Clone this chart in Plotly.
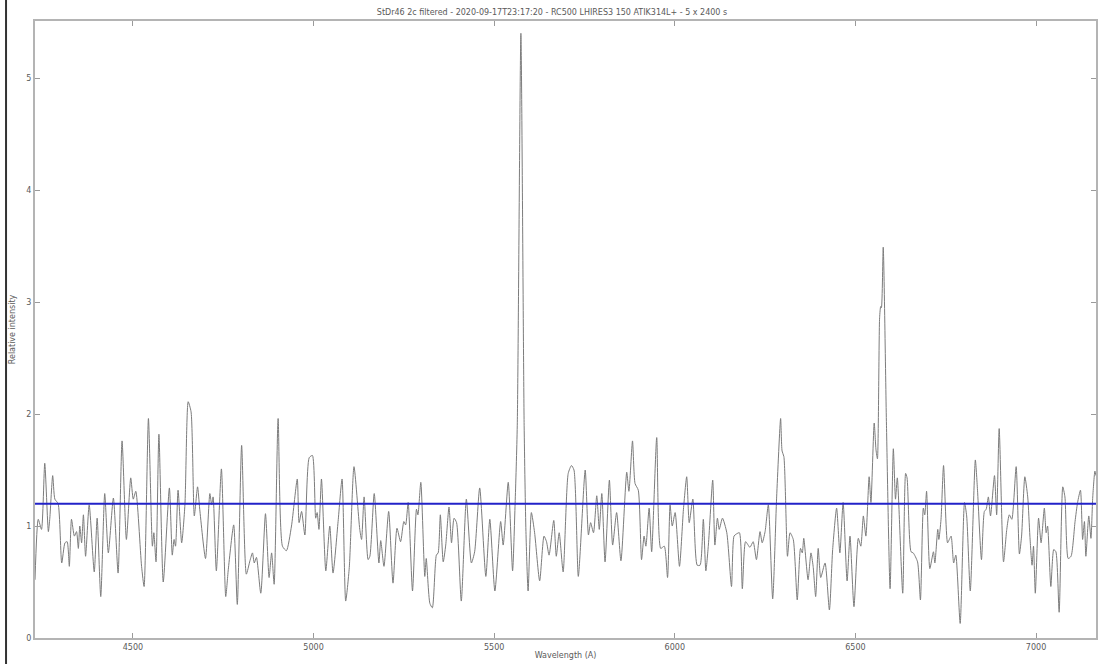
import plotly.graph_objects as go

# Wavelength (Angstrom) and relative intensity
wavelength = [
    4229, 4238, 4247, 4256, 4266, 4270, 4278, 4284, 4293, 4303, 4312, 4318, 4324, 4330, 4338,
    4344, 4349, 4353, 4358, 4363, 4369, 4379, 4393, 4401, 4411, 4422, 4432, 4446, 4459, 4470,
    4482, 4494, 4501, 4508, 4524, 4531, 4543, 4554, 4558, 4564, 4572, 4584, 4601, 4609, 4614,
    4618, 4625, 4635, 4644, 4653, 4661, 4670, 4679, 4685, 4701, 4713, 4718, 4722,
    4731, 4745, 4757, 4764, 4779, 4789, 4801, 4814, 4824, 4831, 4836, 4842, 4854, 4867, 4877,
    4884, 4891, 4902, 4914, 4925, 4939, 4955, 4960, 4967, 4976, 4988, 4997, 5006, 5010, 5015,
    5022, 5034, 5045, 5054, 5068, 5079, 5089, 5099, 5112, 5128, 5133, 5140, 5151, 5156, 5168,
    5181, 5186, 5195, 5208, 5220,
    5231, 5241, 5250, 5255, 5262, 5274, 5285, 5289, 5297, 5308, 5312, 5322, 5329, 5340, 5345,
    5351, 5359, 5366, 5375, 5382, 5389, 5396, 5409, 5423, 5437, 5446, 5460, 5477, 5488, 5502,
    5518, 5525, 5539, 5551, 5558, 5564, 5574, 5583, 5588, 5594, 5603, 5612, 5626, 5638, 5645,
    5652, 5665, 5672, 5680, 5691, 5705, 5714, 5721,
    5733, 5752, 5761, 5767, 5775, 5784, 5791, 5798, 5807, 5819, 5828, 5839, 5851, 5867, 5873,
    5883, 5890, 5899, 5908, 5915, 5920, 5929, 5936, 5950, 5961, 5971, 5980, 5987, 5993, 6001,
    6013, 6024, 6033, 6040, 6050, 6062, 6070, 6079, 6086, 6093, 6105, 6111, 6118, 6123, 6132,
    6144, 6157, 6164, 6171, 6179, 6187, 6196, 6208, 6217,
    6226, 6236, 6242, 6250, 6259, 6271, 6282, 6293, 6297, 6302, 6312, 6319, 6328, 6339, 6348,
    6353, 6357, 6369, 6377, 6383, 6390, 6397, 6404, 6416, 6428, 6437, 6448, 6457, 6466, 6477,
    6485, 6496, 6508, 6515, 6522, 6529, 6538, 6543, 6552, 6557, 6561, 6567, 6570, 6572, 6577,
    6586, 6596, 6605, 6611, 6616, 6631, 6639, 6643, 6654, 6660, 6672, 6680, 6688, 6692, 6697,
    6706, 6716, 6720,
    6728, 6731, 6737, 6744, 6755, 6760, 6765, 6772, 6778, 6790, 6802, 6808, 6818, 6832, 6838,
    6849, 6857, 6862, 6868, 6874, 6885, 6891, 6898, 6910, 6919, 6926, 6933, 6945, 6954, 6960,
    6969, 6977, 6983, 6989, 6993, 6998, 7007, 7014, 7023, 7028, 7032, 7041, 7049, 7055, 7064,
    7074, 7080, 7089, 7097, 7108, 7115, 7123, 7129, 7134, 7138, 7146, 7152, 7157, 7163, 7166,
]
intensity = [
    0.52, 1.06, 0.97, 1.56, 0.95, 1.07, 1.45, 1.24, 1.20, 0.67, 0.85, 0.86, 0.64, 1.06, 0.91,
    0.95, 0.80, 1.00, 0.85, 1.10, 0.73, 1.19, 0.59, 1.07, 0.37, 1.29, 0.76, 1.25, 0.58, 1.76,
    0.88, 1.43, 1.24, 1.31, 0.64, 0.46, 1.96, 0.82, 0.94, 0.68, 1.82, 0.50, 1.34, 0.74, 0.88,
    0.82, 1.32, 0.85, 1.19, 2.11, 2.02, 1.09, 1.35, 1.15, 0.71, 1.29, 1.19, 1.26,
    0.60, 1.51, 0.37, 0.61, 1.01, 0.30, 1.72, 0.57, 0.69, 0.76, 0.67, 0.72, 0.40, 1.11, 0.54,
    0.76, 0.48, 1.96, 0.82, 0.78, 1.00, 1.42, 1.03, 1.13, 0.92, 1.61, 1.63, 1.07, 1.12, 0.97,
    1.42, 0.60, 1.00, 0.58, 1.04, 1.42, 0.33, 0.63, 1.53, 0.97, 0.88, 1.26, 0.70, 0.73, 1.29,
    0.67, 0.87, 0.64, 1.13, 0.49,
    0.98, 0.86, 1.04, 1.01, 1.21, 0.42, 1.15, 1.10, 1.39, 0.55, 0.71, 0.31, 0.27, 0.74, 0.76,
    1.10, 0.68, 0.83, 1.17, 0.85, 1.07, 1.03, 0.33, 1.24, 0.67, 0.77, 1.34, 0.55, 1.06, 0.42,
    1.04, 0.83, 1.39, 0.60, 1.20, 1.90, 5.40, 1.90, 0.95, 0.42, 1.12, 0.94, 0.51, 0.91, 0.86,
    0.74, 1.05, 0.73, 0.94, 0.59, 1.47, 1.54, 1.50,
    0.55, 1.50, 0.92, 1.03, 0.94, 1.27, 0.97, 1.29, 0.68, 1.41, 0.83, 1.12, 0.69, 1.48, 1.31,
    1.76, 1.38, 1.32, 0.70, 0.91, 0.82, 1.16, 0.77, 1.79, 0.80, 0.82, 0.54, 1.19, 1.00, 1.12,
    0.64, 1.15, 1.44, 1.03, 1.24, 0.65, 0.65, 1.06, 0.60, 0.83, 1.41, 0.83, 1.07, 0.97, 1.07,
    0.94, 0.46, 0.91, 0.93, 0.94, 0.44, 0.86, 0.81, 0.86,
    0.70, 0.95, 0.85, 0.95, 1.19, 0.35, 1.26, 1.96, 1.67, 1.62, 0.73, 0.94, 0.88, 0.34, 0.80,
    0.76, 0.89, 0.52, 0.76, 0.64, 0.37, 0.80, 0.54, 0.67, 0.25, 0.79, 1.16, 0.76, 1.21, 0.51,
    0.91, 0.28, 0.89, 0.82, 1.09, 0.91, 1.44, 1.21, 1.92, 1.68, 1.60, 2.86, 2.96, 2.95, 3.49,
    1.90, 0.44, 1.69, 1.24, 1.43, 0.40, 1.47, 1.43, 0.77, 0.76, 0.68, 0.34, 1.16, 1.10, 1.31,
    0.62, 0.77, 0.67,
    0.97, 0.88, 1.06, 1.54, 0.85, 0.88, 0.91, 0.67, 0.74, 0.13, 1.21, 1.09, 0.42, 1.59, 1.32,
    0.70, 1.13, 1.15, 1.26, 1.09, 1.45, 1.10, 1.87, 0.68, 0.97, 1.10, 1.06, 1.53, 0.75, 0.91,
    1.44, 1.26, 0.91, 0.65, 0.82, 0.40, 1.07, 0.85, 1.16, 0.94, 1.00, 0.46, 0.79, 0.77, 0.23,
    1.35, 1.26, 0.71, 0.73, 1.04, 1.21, 1.32, 0.88, 1.04, 0.73, 1.09, 0.89, 1.26, 1.49, 1.45,
]
continuum_level = 1.20
x_range = [4229, 7166]
y_range = [0, 5.51]
x_ticks = [4500, 5000, 5500, 6000, 6500, 7000]
y_ticks = [0, 1, 2, 3, 4, 5]
title_text = "StDr46 2c filtered - 2020-09-17T23:17:20 - RC500 LHIRES3 150 ATIK314L+ - 5 x 2400 s"

fig = go.Figure()
fig.add_trace(go.Scatter(
    x=wavelength, y=intensity, mode="lines",
    line=dict(color="#7c7c7c", width=1, shape="spline", smoothing=0.6),
    hoverinfo="x+y", showlegend=False,
))
fig.add_trace(go.Scatter(
    x=x_range, y=[continuum_level, continuum_level], mode="lines",
    line=dict(color="#2222c8", width=2), showlegend=False,
))

label_font = dict(family="DejaVu Sans", size=8, color="#5a5a5a")
axis_common = dict(
    showgrid=False, zeroline=False, showline=True, linecolor="#b4b4b4", linewidth=2,
    mirror="ticks", ticks="inside", ticklen=5, tickcolor="#9a9a9a", tickwidth=1,
    tickfont=label_font, automargin=False,
)
fig.update_xaxes(range=x_range, tickvals=x_ticks, autorange=False,
                 title=dict(text="Wavelength (A)", font=label_font, standoff=2),
                 **axis_common)
fig.update_yaxes(range=y_range, tickvals=y_ticks, autorange=False,
                 title=dict(text="Relative intensity", font=label_font, standoff=10),
                 **axis_common)

fig.update_layout(
    width=1104, height=664,
    margin=dict(l=35, r=8, t=21, b=26),
    paper_bgcolor="white", plot_bgcolor="white",
    title=dict(text=title_text, x=0.5, xanchor="center", y=0.981, yanchor="middle",
               font=label_font),
    shapes=[dict(type="line", xref="paper", yref="paper",
                 x0=-0.0273, x1=-0.0273, y0=-0.05, y1=1.05,
                 line=dict(color="#333333", width=2))],
)

fig.write_html("out.html", config={"displayModeBar": False})
